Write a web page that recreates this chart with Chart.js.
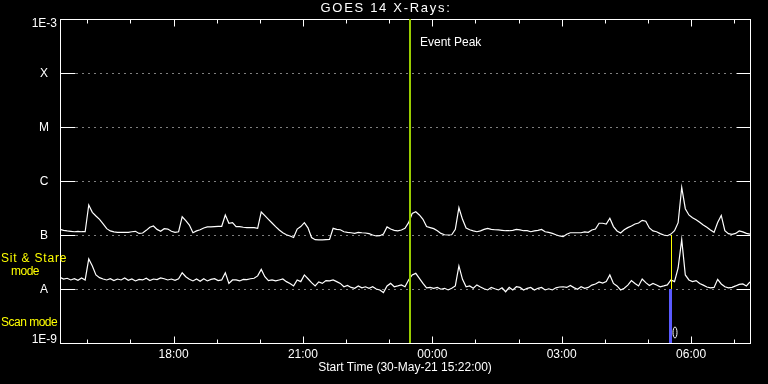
<!DOCTYPE html>
<html>
<head>
<meta charset="utf-8">
<title>GOES 14 X-Rays</title>
<script src="https://cdn.jsdelivr.net/npm/chart.js@4.4.1/dist/chart.umd.min.js"></script>
<style>
    html, body { margin: 0; padding: 0; background: #000; }
    #wrap { width: 768px; height: 384px; }
</style>
</head>
<body>
<div id="wrap"><canvas id="xrayChart"></canvas></div>
<script>
(function() {
    'use strict';

    // ===== DATA =====
    const START_LABEL = '30-May-21 15:22:00';
    const START_MIN = 15 * 60 + 22;   // minutes after midnight
    const SPAN_MIN = 960;             // 16 hours shown
    const CADENCE = 5;                // minutes between samples
    const FLUX_UNIT = 1e-9;           // flux arrays below are in nW/m^2

    // 1-8 A channel (upper curve)
    const longFlux = [
        127, 122, 119, 117, 115, 117, 115, 115, 360, 263, 225, 195, 160, 131, 119, 114,
        112, 112, 112, 112, 115, 117, 107, 109, 122, 139, 147, 127, 117, 131, 129, 117,
        112, 115, 218, 184, 153, 110, 119, 125, 135, 141, 141, 143, 145, 145, 235, 165,
        169, 143, 143, 139, 137, 137, 137, 133, 267, 228, 195, 167, 143, 124, 110, 101,
        96, 90, 129, 143, 169, 136, 90, 82, 81, 81, 82, 83, 133, 127, 125, 115,
        112, 110, 107, 112, 110, 109, 106, 100, 96, 97, 104, 141, 129, 122, 119, 124,
        133, 169, 250, 270, 235, 195, 143, 137, 131, 120, 107, 101, 100, 101, 127, 320,
        195, 135, 125, 119, 115, 119, 127, 133, 127, 125, 124, 122, 120, 120, 122, 127,
        124, 120, 120, 115, 119, 122, 127, 115, 112, 107, 101, 96, 93, 103, 110, 110,
        110, 110, 114, 112, 124, 129, 165, 165, 160, 204, 143, 119, 109, 125, 137, 147,
        160, 167, 187, 180, 135, 119, 115, 106, 100, 97, 104, 120, 169, 760, 307, 235,
        209, 192, 172, 153, 139, 124, 112, 170, 230, 120, 106, 103, 107, 119, 114, 107,
        104
    ];

    // 0.5-4 A channel (lower curve)
    const shortFlux = [
        16.5, 15.3, 15.8, 14.7, 15.5, 14.5, 16.0, 14.7, 36, 26.7, 18.2, 16.2, 15.3, 14.7, 15.5, 14.3,
        15.3, 14.7, 16.0, 14.5, 15.3, 14.1, 15.1, 14.7, 15.8, 14.3, 15.3, 14.9, 16.0, 15.5, 14.7, 15.3,
        14.5, 15.5, 20, 16.9, 15.1, 14.1, 15.3, 13.9, 15.5, 14.1, 15.1, 15.5, 14.3, 14.7, 20, 12.7,
        14.7, 14.7, 14.1, 15.1, 14.9, 15.5, 15.8, 17.5, 23.1, 16.9, 14.3, 14.7, 14.1, 14.7, 15.3, 13.7,
        12.7, 11.4, 14.7, 13.7, 18.2, 15.5, 13.1, 11.4, 13.5, 12.7, 14.3, 14.1, 14.7, 13.7, 12.7, 11.0,
        11.6, 10.7, 10.3, 11.4, 10.5, 11.0, 10.3, 11.0, 10.0, 9.6, 8.6, 11.4, 12.7, 11.0, 11.4, 11.9,
        11.0, 14.7, 18.2, 19.5, 15.8, 12.7, 10.5, 10.7, 10.3, 10.7, 9.9, 10.3, 9.6, 10.3, 11.4, 26.7,
        15.1, 11.0, 11.4, 10.3, 11.9, 10.9, 10.1, 9.6, 10.7, 10.1, 9.6, 10.5, 8.9, 10.7, 9.6, 11.0,
        10.7, 9.6, 10.3, 10.7, 9.6, 10.3, 10.7, 9.6, 10.1, 9.6, 10.5, 10.9, 11.0, 10.7, 11.6, 10.6,
        9.9, 11.0, 10.3, 10.7, 11.8, 12.4, 13.5, 12.9, 13.7, 18.2, 12.7, 11.4, 9.6, 10.3, 11.8, 14.3,
        12.7, 11.4, 15.3, 13.1, 11.6, 12.7, 11.9, 11.0, 11.4, 11.9, 14.7, 13.7, 24.5, 82, 18.2, 14.7,
        13.7, 14.3, 12.6, 11.8, 10.9, 10.5, 10.7, 15.1, 12.4, 11.0, 10.5, 10.7, 11.4, 12.2, 12.4, 11.4,
        13.5
    ];

    const levelValues = [1e-9, 1e-8, 1e-7, 1e-6, 1e-5, 1e-4, 1e-3];
    const levelLabels = ['1E-9', 'A', 'B', 'C', 'M', 'X', '1E-3'];
    const majorTickLabels = ['18:00', '21:00', '00:00', '03:00', '06:00'];

    const eventPeakTime = '23:29';
    const scanModeTime = '05:31';

    // ===== HELPERS =====
    function minutesFromStart(hhmm) {
        const parts = hhmm.split(':');
        let m = parseInt(parts[0], 10) * 60 + parseInt(parts[1], 10) - START_MIN;
        if (m < 0) m += 1440;
        return m;
    }

    function toPoints(arr) {
        return arr.map((v, i) => ({ x: i * CADENCE, y: v * FLUX_UNIT }));
    }

    const FONT_FAMILY = '"Liberation Sans", Arial, sans-serif';
    const FONT = '12px ' + FONT_FAMILY;
    const WHITE = '#ffffff';
    const YELLOW = '#ffff00';

    // ===== FRAME / AXES / ANNOTATIONS =====
    const goesPlot = {
        id: 'goesPlot',
        beforeDraw(chart) {
            const ctx = chart.ctx;
            ctx.save();
            ctx.fillStyle = '#000';
            ctx.fillRect(0, 0, chart.width, chart.height);
            ctx.restore();
        },
        beforeDatasetsDraw(chart) {
            const ctx = chart.ctx;
            const a = chart.chartArea;
            const xs = chart.scales.x;
            const ys = chart.scales.y;
            const L = Math.round(a.left) + 0.5;
            const R = Math.round(a.right) + 0.5;
            const T = Math.round(a.top) + 0.5;
            const B = Math.round(a.bottom) + 0.5;

            ctx.save();
            ctx.strokeStyle = WHITE;
            ctx.lineWidth = 1;

            // flux class levels
            levelValues.forEach(v => {
                if (v <= ys.min || v >= ys.max) return;
                const y = Math.round(ys.getPixelForValue(v)) + 0.5;
                ctx.setLineDash([1, 5]);
                ctx.beginPath();
                ctx.moveTo(L + 16, y);
                ctx.lineTo(R - 14, y);
                ctx.stroke();
                ctx.setLineDash([]);
                ctx.beginPath();
                ctx.moveTo(L, y); ctx.lineTo(L + 15, y);
                ctx.moveTo(R - 14, y); ctx.lineTo(R, y);
                ctx.stroke();
            });

            // hourly ticks, inward on top and bottom
            const majors = majorTickLabels.map(minutesFromStart);
            for (let m = 60 - (START_MIN % 60); m <= SPAN_MIN; m += 60) {
                const x = Math.round(xs.getPixelForValue(m)) + 0.5;
                const len = majors.indexOf(m) >= 0 ? 7 : 4;
                ctx.beginPath();
                ctx.moveTo(x, T); ctx.lineTo(x, T + len);
                ctx.moveTo(x, B); ctx.lineTo(x, B - len);
                ctx.stroke();
            }

            // frame
            ctx.strokeRect(L, T, R - L, B - T);
            ctx.restore();
        },
        afterDatasetsDraw(chart) {
            const ctx = chart.ctx;
            const a = chart.chartArea;
            const xs = chart.scales.x;
            const ys = chart.scales.y;

            ctx.save();

            // event peak marker
            const ex = Math.round(xs.getPixelForValue(minutesFromStart(eventPeakTime)));
            ctx.strokeStyle = '#99cc00';
            ctx.lineWidth = 2;
            ctx.beginPath();
            ctx.moveTo(ex, a.top);
            ctx.lineTo(ex, a.bottom);
            ctx.stroke();

            // sit & stare / scan mode switch
            const sx = Math.round(xs.getPixelForValue(minutesFromStart(scanModeTime)));
            ctx.strokeStyle = YELLOW;
            ctx.lineWidth = 1;
            ctx.beginPath();
            ctx.moveTo(sx + 1.5, ys.getPixelForValue(1e-7));
            ctx.lineTo(sx + 1.5, ys.getPixelForValue(1e-8));
            ctx.stroke();
            ctx.strokeStyle = '#5a5aff';
            ctx.lineWidth = 3;
            ctx.beginPath();
            ctx.moveTo(sx + 0.5, ys.getPixelForValue(1e-8));
            ctx.lineTo(sx + 0.5, a.bottom);
            ctx.stroke();
            ctx.strokeStyle = WHITE;
            ctx.lineWidth = 1;
            ctx.beginPath();
            ctx.ellipse(sx + 5, a.bottom - 10.5, 2, 5.5, 0, 0, Math.PI * 2);
            ctx.stroke();

            // texts
            ctx.font = FONT;
            ctx.fillStyle = WHITE;
            ctx.textBaseline = 'middle';

            ctx.textAlign = 'left';
            ctx.fillText('Event Peak', ex + 10, 43);

            ctx.textAlign = 'center';
            ctx.save();
            ctx.font = '13px ' + FONT_FAMILY;
            ctx.letterSpacing = '1.7px';
            ctx.fillText('GOES 14 X-Rays:', 386, 8);
            ctx.restore();

            majorTickLabels.forEach(lbl => {
                const x = xs.getPixelForValue(minutesFromStart(lbl));
                ctx.fillText(lbl, x, 355);
            });
            ctx.fillText('Start Time (' + START_LABEL + ')', (a.left + a.right) / 2, 368);

            levelValues.forEach((v, i) => {
                const y = ys.getPixelForValue(v);
                const lbl = levelLabels[i];
                if (v >= ys.max) {
                    ctx.textAlign = 'right';
                    ctx.fillText(lbl, a.left - 3, y + 5);
                } else if (v <= ys.min) {
                    ctx.textAlign = 'right';
                    ctx.fillText(lbl, a.left - 3, y - 3);
                } else {
                    ctx.textAlign = 'center';
                    ctx.fillText(lbl, a.left - 16, y + 1);
                }
            });

            // instrument mode labels
            ctx.fillStyle = YELLOW;
            ctx.textAlign = 'left';
            ctx.save();
            ctx.letterSpacing = '0.8px';
            ctx.fillText('Sit & Stare', 1, 259);
            ctx.restore();
            ctx.save();
            ctx.letterSpacing = '-0.5px';
            ctx.textAlign = 'center';
            ctx.fillText('mode', 25, 271.5);
            ctx.textAlign = 'left';
            ctx.fillText('Scan mode', 1, 323);
            ctx.restore();

            ctx.restore();
        }
    };

    document.addEventListener('DOMContentLoaded', function() {
        const ctx = document.getElementById('xrayChart').getContext('2d');

        new Chart(ctx, {
            type: 'line',
            data: {
                datasets: [
                    {
                        label: 'GOES 14 1-8 A',
                        data: toPoints(longFlux),
                        borderColor: WHITE,
                        borderWidth: 1.2,
                        pointRadius: 0,
                        tension: 0
                    },
                    {
                        label: 'GOES 14 0.5-4 A',
                        data: toPoints(shortFlux),
                        borderColor: WHITE,
                        borderWidth: 1.2,
                        pointRadius: 0,
                        tension: 0
                    }
                ]
            },
            options: {
                responsive: true,
                maintainAspectRatio: false,
                animation: false,
                layout: {
                    padding: { left: 60, right: 18, top: 19, bottom: 41 }
                },
                plugins: {
                    legend: { display: false },
                    tooltip: { enabled: false }
                },
                scales: {
                    x: {
                        type: 'linear',
                        min: 0,
                        max: SPAN_MIN,
                        display: false
                    },
                    y: {
                        type: 'logarithmic',
                        min: 1e-9,
                        max: 1e-3,
                        display: false
                    }
                }
            },
            plugins: [goesPlot]
        });
    });

})();
</script>
</body>
</html>
